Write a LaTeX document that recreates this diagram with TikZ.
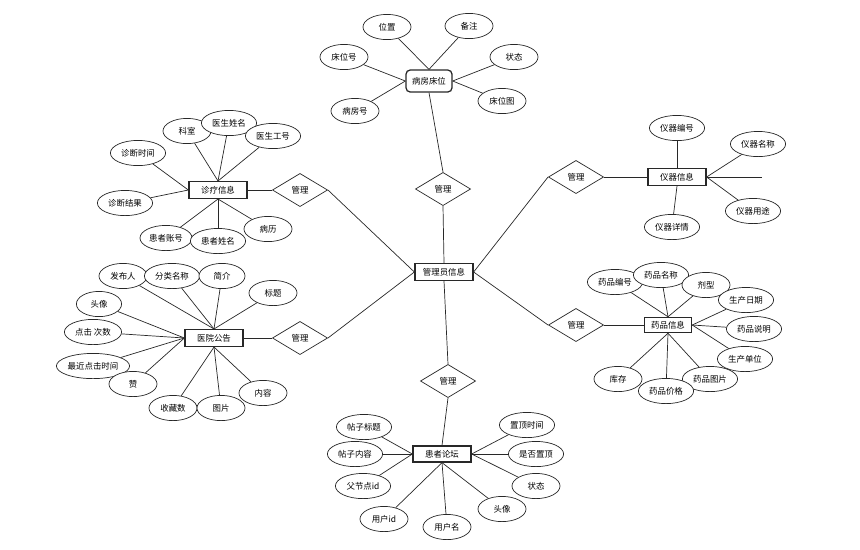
\documentclass[tikz,border=0pt]{standalone}
\usepackage{fontspec}
\setmainfont{Noto Sans CJK SC}
\usetikzlibrary{shapes,positioning}
\definecolor{linegray}{RGB}{40,40,40}

\begin{document}
\begin{tikzpicture}[x=0.025cm, y=-0.025cm,
				box/.style={rectangle, draw=linegray, fill=white, line width=0.9pt, minimum width=1.45cm, minimum height=0.42cm, inner sep=0pt, font=\fontsize{6}{7}\selectfont},
				attr/.style={ellipse, draw=linegray, fill=white, line width=0.5pt, minimum width=1.2cm, minimum height=0.63cm, inner sep=0pt, font=\fontsize{6}{7}\selectfont},
				wide/.style={minimum width=1.38cm},
				rel/.style={diamond, draw=linegray, fill=white, line width=0.5pt, minimum width=1.38cm, minimum height=0.83cm, inner sep=0pt, font=\fontsize{6}{7}\selectfont},
				link/.style={draw=linegray, line width=0.5pt}]
				\useasboundingbox (0,0) rectangle (860,549);
				% 病房床位
				\node[box, rounded corners=3pt, minimum width=1.15cm, minimum height=0.55cm] (bf) at (429,81) {病房床位};
				\node[attr] (bfwz) at (387,27) {位置};
				\node[attr] (bfbz) at (469,26) {备注};
				\node[attr] (bfch) at (344,57) {床位号};
				\node[attr] (bfzt) at (514,57) {状态};
				\node[attr] (bfbh) at (355,111) {病房号};
				\node[attr] (bftu) at (502,101) {床位图};
				
				% 管理员信息 and relations
				\node[rel] (gl1) at (443,189) {管理};
				\node[box] (gly) at (444,272) {管理员信息};
				\node[rel] (gl2) at (300,190) {管理};
				\node[rel] (gl3) at (300,338) {管理};
				\node[rel] (gl4) at (576,177) {管理};
				\node[rel] (gl5) at (576,325) {管理};
				\node[rel] (gl6) at (448,381) {管理};
				
				% 诊疗信息
				\node[box] (zl) at (218,190) {诊疗信息};
				\node[attr] (zlks) at (187,131) {科室};
				\node[attr, wide] (zlxm) at (229,123) {医生姓名};
				\node[attr, wide] (zlgh) at (273,136) {医生工号};
				\node[attr, wide] (zlsj) at (138,153) {诊断时间};
				\node[attr, wide] (zljg) at (125,203) {诊断结果};
				\node[attr, minimum width=1.3cm] (zlzh) at (166,238) {患者账号};
				\node[attr, wide] (zlhx) at (218,241) {患者姓名};
				\node[attr] (zlbl) at (268,229) {病历};
				
				% 医院公告
				\node[box] (gg) at (214,338) {医院公告};
				\node[attr] (ggfb) at (123,276) {发布人};
				\node[attr, wide] (ggfl) at (172,276) {分类名称};
				\node[attr, minimum width=1.15cm] (ggjj) at (222,276) {简介};
				\node[attr] (ggbt) at (273,293) {标题};
				\node[attr, minimum width=1.13cm] (ggtx) at (99,304) {头像};
				\node[attr, minimum width=1.43cm] (ggdj) at (93,332) {点击 次数};
				\node[attr, minimum width=1.83cm] (ggzj) at (93,366) {最近点击时间};
				\node[attr] (ggz) at (133,384) {赞};
				\node[attr] (ggsc) at (173,408) {收藏数};
				\node[attr] (ggtp) at (221,408) {图片};
				\node[attr] (ggnr) at (263,393) {内容};
				
				% 仪器信息
				\node[box] (yq) at (677,177) {仪器信息};
				\node[attr, wide] (yqbh) at (677,128) {仪器编号};
				\node[attr, wide] (yqmc) at (758,144) {仪器名称};
				\node[attr, wide] (yqyt) at (753,211) {仪器用途};
				\node[attr, wide] (yqxq) at (672,227) {仪器详情};
				\coordinate (yqend) at (762,177);
				
				% 药品信息
				\node[box, minimum width=1.18cm, minimum height=0.38cm] (yp) at (668,325) {药品信息};
				\node[attr, wide] (ypbh) at (615,282) {药品编号};
				\node[attr, wide] (ypmc) at (661,275) {药品名称};
				\node[attr] (ypjx) at (706,285) {剂型};
				\node[attr, wide] (ypsr) at (746,300) {生产日期};
				\node[attr, wide] (ypsm) at (754,329) {药品说明};
				\node[attr, wide] (ypdw) at (745,359) {生产单位};
				\node[attr, wide] (yptp) at (710,379) {药品图片};
				\node[attr, wide] (ypjg) at (666,391) {药品价格};
				\node[attr] (ypkc) at (618,379) {库存};
				
				% 患者论坛
				\node[box, minimum height=0.4cm] (lt) at (442,454) {患者论坛};
				\node[attr, wide] (ltbt) at (364,427) {帖子标题};
				\node[attr, wide] (ltnr) at (355,454) {帖子内容};
				\node[attr, wide] (ltfj) at (363,486) {父节点id};
				\node[attr] (ltyh) at (384,519) {用户id};
				\node[attr] (ltmc) at (447,527) {用户名};
				\node[attr] (lttx) at (502,509) {头像};
				\node[attr] (ltzt) at (536,486) {状态};
				\node[attr, wide] (ltsf) at (536,454) {是否置顶};
				\node[attr, wide] (ltsj) at (527,425) {置顶时间};
				
				% connectors
				\draw[link] (bf.north) -- (bfwz);
				\draw[link] (bf.north) -- (bfbz);
				\draw[link] (bf.west) -- (bfch);
				\draw[link] (bf.west) -- (bfbh);
				\draw[link] (bf.east) -- (bfzt);
				\draw[link] (bf.east) -- (bftu);
				\draw[link] (bf.south) -- (gl1.north);
				\draw[link] (gl1.south) -- (gly.north);
				\draw[link] (gly.west) -- (gl2.east);
				\draw[link] (gly.west) -- (gl3.east);
				\draw[link] (gly.east) -- (gl4.west);
				\draw[link] (gly.east) -- (gl5.west);
				\draw[link] (gly.south) -- (gl6.north);
				\draw[link] (gl6.south) -- (lt.north);
				\draw[link] (gl2.west) -- (zl.east);
				\draw[link] (gl3.west) -- (gg.east);
				\draw[link] (gl4.east) -- (yq.west);
				\draw[link] (gl5.east) -- (yp.west);
				
				\draw[link] (zl.north) -- (zlks);
				\draw[link] (zl.north) -- (zlxm);
				\draw[link] (zl.north) -- (zlgh);
				\draw[link] (zl.west) -- (zlsj);
				\draw[link] (zl.west) -- (zljg);
				\draw[link] (zl.south) -- (zlzh);
				\draw[link] (zl.south) -- (zlhx);
				\draw[link] (zl.south) -- (zlbl);
				
				\draw[link] (gg.north) -- (ggfb);
				\draw[link] (gg.north) -- (ggfl);
				\draw[link] (gg.north) -- (ggjj);
				\draw[link] (gg.north) -- (ggbt);
				\draw[link] (gg.west) -- (ggtx);
				\draw[link] (gg.west) -- (ggdj);
				\draw[link] (gg.west) -- (ggzj);
				\draw[link] (gg.west) -- (ggz);
				\draw[link] (gg.south) -- (ggsc);
				\draw[link] (gg.south) -- (ggtp);
				\draw[link] (gg.south) -- (ggnr);
				
				\draw[link] (yq.north) -- (yqbh);
				\draw[link] (yq.east) -- (yqmc);
				\draw[link] (yq.east) -- (yqyt);
				\draw[link] (yq.east) -- (yqend);
				\draw[link] (yq.south) -- (yqxq);
				
				\draw[link] (yp.north) -- (ypbh);
				\draw[link] (yp.north) -- (ypmc);
				\draw[link] (yp.north) -- (ypjx);
				\draw[link] (yp.east) -- (ypsr);
				\draw[link] (yp.east) -- (ypsm);
				\draw[link] (yp.east) -- (ypdw);
				\draw[link] (yp.south) -- (yptp);
				\draw[link] (yp.south) -- (ypjg);
				\draw[link] (yp.south) -- (ypkc);
				
				\draw[link] (lt.west) -- (ltbt);
				\draw[link] (lt.west) -- (ltnr);
				\draw[link] (lt.west) -- (ltfj);
				\draw[link] (lt.south) -- (ltyh);
				\draw[link] (lt.south) -- (ltmc);
				\draw[link] (lt.south) -- (lttx);
				\draw[link] (lt.east) -- (ltzt);
				\draw[link] (lt.east) -- (ltsf);
				\draw[link] (lt.east) -- (ltsj);
			\end{tikzpicture}
\end{document}
